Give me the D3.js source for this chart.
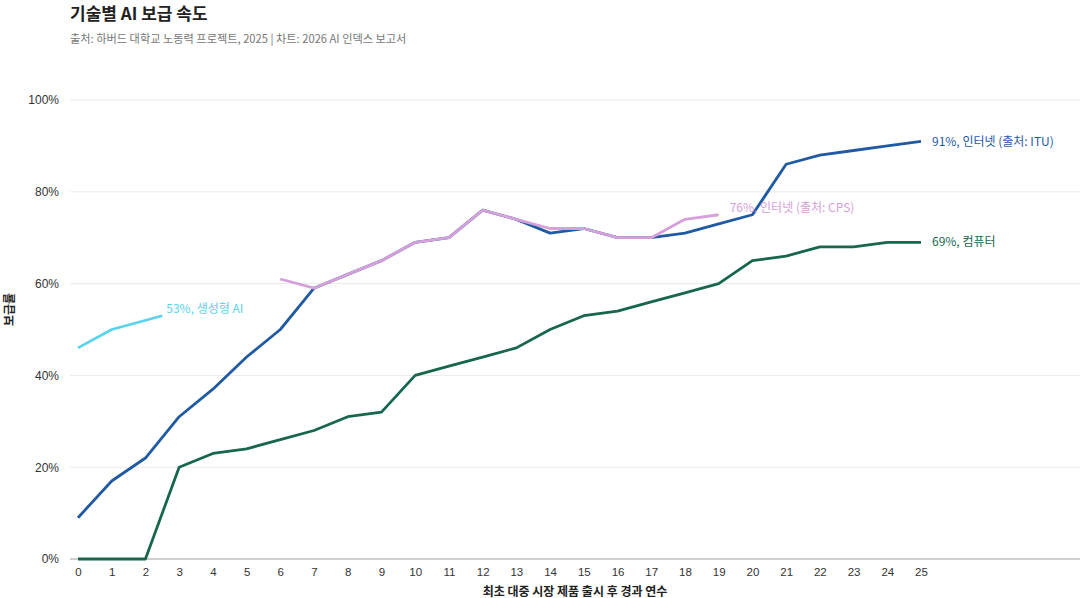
<!DOCTYPE html>
<html>
<head>
<meta charset="utf-8">
<script src="https://cdn.jsdelivr.net/npm/d3@7"></script>
<style>
  body { margin: 0; background: #fff; font-family: "Noto Sans CJK KR", "Noto Sans", sans-serif; }
</style>
</head>
<body>
<div id="chart"></div>
<script>
/* 기술별 AI 보급 속도 - line chart */

const years = d3.range(0, 26);
const yTicks = [0, 20, 40, 60, 80, 100];

const itu = [9, 17, 22, 31, 37, 44, 50, 59, 62, 65, 69, 70, 76, 74, 71, 72, 70, 70, 71, 73, 75, 86, 88, 89, 90, 91];
const computer = [0, 0, 0, 20, 23, 24, 26, 28, 31, 32, 40, 42, 44, 46, 50, 53, 54, 56, 58, 60, 65, 66, 68, 68, 69, 69];
const cpsYears = d3.range(6, 20);
const cps = [61, 59, 62, 65, 69, 70, 76, 74, 72, 72, 70, 70, 74, 75];
const genYears = [0, 1, 2.5];
const genAI = [46, 50, 53];

const series = [
    { name: "91%, 인터넷 (출처: ITU)", xs: years, ys: itu, color: "#1f5aa3", off: 11, dy: 0 },
    { name: "69%, 컴퓨터", xs: years, ys: computer, color: "#17664f", off: 11, dy: 0 },
    { name: "76%, 인터넷 (출처: CPS)", xs: cpsYears, ys: cps, color: "#d6a0db", off: 11, dy: -7 },
    { name: "53%, 생성형 AI", xs: genYears, ys: genAI, color: "#5ad3ee", off: 4, dy: -7 }
];

const width = 1080, height = 598;
const margin = { top: 100, right: 0, bottom: 39, left: 70 };

const svg = d3.select("#chart").append("svg")
    .attr("width", width).attr("height", height);

// 0 -> 78px, 25 -> 921px
const x = d3.scaleLinear().domain([0, 25]).range([78, 921]);
const y = d3.scaleLinear().domain([0, 100]).range([height - margin.bottom, margin.top]);

// grid
svg.append("g")
    .selectAll("line")
    .data(yTicks.filter(d => d > 0))
    .join("line")
    .attr("x1", margin.left).attr("x2", width)
    .attr("y1", d => y(d)).attr("y2", d => y(d))
    .attr("stroke", "#ebebeb").attr("stroke-width", 1);

svg.append("line")
    .attr("x1", margin.left).attr("x2", width)
    .attr("y1", y(0)).attr("y2", y(0))
    .attr("stroke", "#cfcfcf").attr("stroke-width", 2);

// y axis labels
const yAxis = g => g
    .attr("transform", `translate(${margin.left - 8},0)`)
    .call(d3.axisLeft(y).tickValues(yTicks).tickFormat(d => d + "%").tickSize(0))
    .call(g => g.select(".domain").remove())
    .call(g => g.selectAll("text").attr("fill", "#333").style("font-size", "12px").attr("dx", 0));
svg.append("g").call(yAxis);

// x axis labels
const xAxis = g => g
    .attr("transform", `translate(0,${y(0) + 6})`)
    .call(d3.axisBottom(x).tickValues(years).tickFormat(d3.format("d")).tickSize(0))
    .call(g => g.select(".domain").remove())
    .call(g => g.selectAll("text").attr("fill", "#333").style("font-size", "11.5px"));
svg.append("g").call(xAxis);

// lines
const line = d3.line().x(d => x(d[0])).y(d => y(d[1]));

svg.append("g")
    .selectAll("path")
    .data(series)
    .join("path")
    .attr("fill", "none")
    .attr("stroke", d => d.color)
    .attr("stroke-width", 2.8)
    .attr("stroke-linejoin", "round")
    .attr("d", d => line(d.xs.map((v, i) => [v, d.ys[i]])));

// end labels
svg.append("g")
    .selectAll("text")
    .data(series)
    .join("text")
    .attr("x", d => x(d.xs[d.xs.length - 1]) + d.off)
    .attr("y", d => y(d.ys[d.ys.length - 1]) + d.dy)
    .attr("dy", "0.35em")
    .attr("fill", d => d.color)
    .style("font-size", "12px")
    .text(d => d.name);

// titles
svg.append("text")
    .attr("x", 70).attr("y", 20)
    .style("font-size", "17px").style("font-weight", "bold").attr("fill", "#222")
    .text("기술별 AI 보급 속도");

svg.append("text")
    .attr("x", 70).attr("y", 43)
    .style("font-size", "11.2px").attr("fill", "#777")
    .text("출처: 하버드 대학교 노동력 프로젝트, 2025 | 차트: 2026 AI 인덱스 보고서");

svg.append("text")
    .attr("x", 575).attr("y", 596)
    .attr("text-anchor", "middle")
    .style("font-size", "12px").style("font-weight", "bold").attr("fill", "#222")
    .text("최초 대중 시장 제품 출시 후 경과 연수");

svg.append("text")
    .attr("transform", `translate(14,${y(50) - 20}) rotate(-90)`)
    .attr("text-anchor", "middle")
    .style("font-size", "12px").style("font-weight", "bold").attr("fill", "#222")
    .text("보급률");
</script>
</body>
</html>
